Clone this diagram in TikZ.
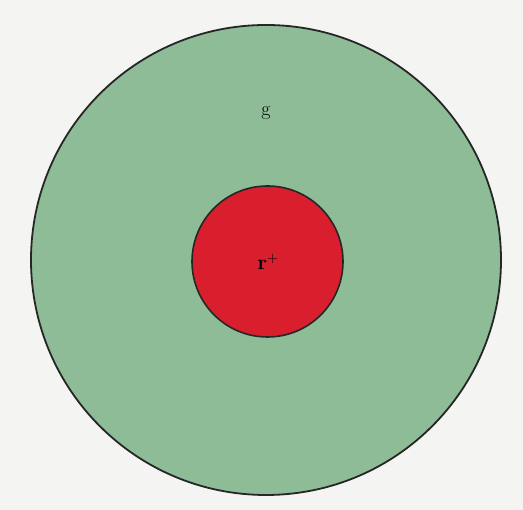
\documentclass[tikz,border=0pt]{standalone}
\usepackage{xcolor}
\definecolor{bg}{HTML}{F4F4F2}
\definecolor{gfill}{HTML}{8DBC97}
\definecolor{rfill}{HTML}{D91E2E}
\begin{document}
\begin{tikzpicture}[x=1pt,y=1pt,
  lbl/.style={font=\fontsize{20}{22}\selectfont, inner sep=0pt}]
\fill[bg] (0,0) rectangle (523,510);
\useasboundingbox (0,0) rectangle (523,510);
\node[circle, draw=black!85, line width=1.8pt, fill=gfill, minimum size=470pt, inner sep=0pt] (outer) at (266,250) {};
\node[circle, draw=black!85, line width=1.6pt, fill=rfill, minimum size=151pt, inner sep=0pt] (inner) at (267.5,248.5) {};
\node[lbl] (g) at (266,397) {g};
\node[lbl] (r) at (268,248) {$\mathbf{r}^{+}$};
\end{tikzpicture}
\end{document}
